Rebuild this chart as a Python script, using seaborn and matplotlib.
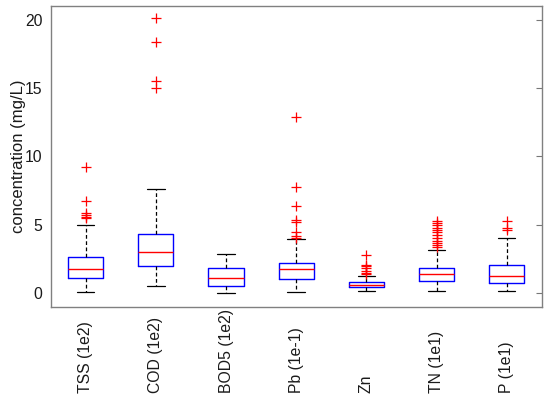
import numpy as np
import seaborn as sns
import matplotlib.pyplot as plt

# box summary values (mg/L, scaled as in the labels)
labels = ['TSS (1e2)', 'COD (1e2)', 'BOD5 (1e2)', 'Pb (1e-1)', 'Zn', 'TN (1e1)', 'P (1e1)']
q1 = [1.12, 1.97, 0.51, 1.00, 0.42, 0.90, 0.75]
med = [1.80, 3.02, 1.12, 1.73, 0.58, 1.39, 1.24]
q3 = [2.68, 4.35, 1.82, 2.21, 0.78, 1.87, 2.09]
whis_lo = [0.07, 0.53, 0.02, 0.12, 0.15, 0.15, 0.15]
whis_hi = [4.96, 7.64, 2.85, 3.94, 1.24, 3.16, 4.04]
outliers = [
    [9.25, 6.77, 5.89, 5.69, 5.55, 5.50],
    [20.1, 18.35, 15.5, 15.0],
    [],
    [12.9, 7.76, 6.4, 5.35, 5.2, 4.47, 4.18, 4.04],
    [2.8, 2.07, 1.95, 1.85, 1.63, 1.5, 1.39],
    [5.25, 5.1, 4.95, 4.8, 4.65, 4.45, 4.25, 4.05, 3.85, 3.65, 3.5, 3.4],
    [5.26, 4.77, 4.62],
]

sns.set_style('white')
plt.rcParams['font.family'] = ['Liberation Sans', 'DejaVu Sans']

stats = []
for i in range(len(labels)):
    stats.append({'label': labels[i], 'q1': q1[i], 'med': med[i], 'q3': q3[i],
                  'whislo': whis_lo[i], 'whishi': whis_hi[i],
                  'fliers': np.array(outliers[i])})

fig = plt.figure(figsize=(5.5, 3.99), dpi=100)
ax = fig.add_axes([0.092, 0.231, 0.893, 0.754])

pos = np.arange(1, len(labels) + 1)
ax.bxp(stats, positions=pos, widths=0.5,
       boxprops=dict(color='#0000ff', linewidth=1.0),
       medianprops=dict(color='#ff0000', linewidth=1.0),
       whiskerprops=dict(color='black', linewidth=0.9, linestyle=(0, (3, 2))),
       capprops=dict(color='black', linewidth=0.9),
       flierprops=dict(marker='+', markeredgecolor='#ff0000', markersize=7,
                       markeredgewidth=0.9, linestyle='none'))

ax.set_xlim(0.5, 7.5)
ax.set_ylim(-1, 21)
ax.set_yticks([0, 5, 10, 15, 20])
ax.set_xticks(pos)
ax.set_xticklabels(labels, rotation=90, rotation_mode='anchor', ha='left', va='center')
ax.tick_params(axis='x', length=0, pad=62, labelsize=11.3, labelcolor='#1a1a1a')
ax.tick_params(axis='y', direction='in', right=True, length=4, width=0.8,
               color='#777777', labelsize=11.3, labelcolor='#1a1a1a', pad=6)
ax.set_ylabel('concentration (mg/L)', fontsize=12, color='#1a1a1a', labelpad=-1)

for sp in ax.spines.values():
    sp.set_color('#808080')
    sp.set_linewidth(1.0)

fig.savefig('out.png', dpi=100)
